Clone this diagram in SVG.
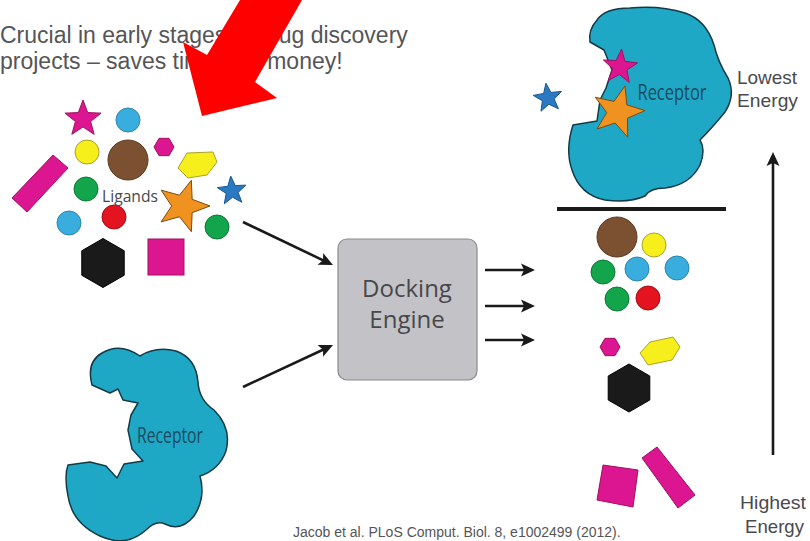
<svg xmlns="http://www.w3.org/2000/svg" xmlns:xlink="http://www.w3.org/1999/xlink" width="810" height="541" viewBox="0 0 810 541">
  <style>
    .head { font-family: "Liberation Sans", Arial, sans-serif; font-size: 23px; fill: #555558; }
    .cite { font-family: "Liberation Sans", Arial, sans-serif; font-size: 14px; fill: #555558; }
    .lbl { font-family: "Open Sans", "Noto Sans", sans-serif; fill: #48484c; }
    .elbl { font-family: "Liberation Sans", Arial, sans-serif; font-size: 19px; fill: #4a4a4e; }
    .rlbl { font-family: "Open Sans", "Noto Sans", sans-serif; font-size: 21px; fill: #1b4a5e; }
    .rec { fill: #1fa8c6; stroke: #143b45; stroke-width: 1.5; stroke-linejoin: round; }
    .ln { stroke: #1a1a1a; stroke-width: 2.6; fill: none; }
    .mag { fill: #dc1690; stroke: #a0105f; stroke-width: 1; }
    .cy { fill: #39aede; stroke: #2b86ad; stroke-width: 1; }
    .yel { fill: #f6ef1c; stroke: #a9a32a; stroke-width: 1; }
    .brn { fill: #7c5131; stroke: #5a3a20; stroke-width: 1; }
    .grn { fill: #13a54b; stroke: #0c7a36; stroke-width: 1; }
    .red { fill: #e3141f; stroke: #a80d14; stroke-width: 1; }
    .org { fill: #f0921f; stroke: #7a4a10; stroke-width: 1; }
    .blu { fill: #2b79c2; stroke: #1c5690; stroke-width: 1; }
    .blk { fill: #1a1a1a; stroke: #000; stroke-width: 1; }
  </style>
  <defs>
    <!-- unit shapes, radius 10 -->
    <polygon id="star" vector-effect="non-scaling-stroke" points="0,-10 2.47,-3.4 9.51,-3.09 3.99,1.3 5.88,8.09 0,4.2 -5.88,8.09 -3.99,1.3 -9.51,-3.09 -2.47,-3.4"/>
    <polygon id="hex" vector-effect="non-scaling-stroke" points="0,-10 8.66,-5 8.66,5 0,10 -8.66,5 -8.66,-5"/>
    <marker id="ah" viewBox="-12 -8 20 16" markerWidth="20" markerHeight="16" refX="0" refY="0" orient="auto" markerUnits="userSpaceOnUse" overflow="visible">
      <path d="M-10,-6.5 L4,0 L-10,6.5 L-7,0 Z" fill="#1a1a1a"/>
    </marker>
  </defs>

  <rect width="810" height="541" fill="#ffffff"/>

  <!-- heading -->
  <g id="heading">
    <text class="head" x="0" y="43">Crucial in early stages of drug discovery</text>
    <text class="head" x="0" y="69">projects – saves time and money!</text>
  </g>

  <!-- ligand library -->
  <g id="ligands">
    <use xlink:href="#star" class="mag" transform="translate(83,119) scale(1.9)"/>
    <circle class="cy" cx="128" cy="120" r="12"/>
    <circle class="yel" cx="87" cy="152" r="12"/>
    <circle class="brn" cx="128" cy="160" r="20"/>
    <use xlink:href="#hex" class="mag" transform="translate(164,147) rotate(30) scale(1)"/>
    <polygon class="yel" points="178,168 187,153 213,152 217,162 207,175 188,178"/>
    <use xlink:href="#star" class="blu" transform="translate(232,191) rotate(-5) scale(1.5)"/>
    <polygon class="mag" points="12,198 53,155 68,168 27,212"/>
    <circle class="grn" cx="86" cy="189" r="12"/>
    <use xlink:href="#star" class="org" transform="translate(183,206) rotate(18) scale(2.7)"/>
    <circle class="cy" cx="69" cy="223" r="12"/>
    <circle class="red" cx="114" cy="217" r="12"/>
    <circle class="grn" cx="217" cy="227" r="12"/>
    <use xlink:href="#hex" class="blk" transform="translate(103,263) scale(2.45)"/>
    <rect class="mag" x="148" y="239" width="36" height="36"/>
    <text class="lbl" x="102" y="202" font-size="16" textLength="56" lengthAdjust="spacingAndGlyphs">Ligands</text>
  </g>

  <!-- free receptor -->
  <g id="receptor-free">
    <path class="rec" d="M92,385 Q86,362 102,353 Q120,342 140,356 Q156,346 176,351 Q196,358 198,382 Q199,400 214,410 Q232,428 226,451 Q219,470 200,476 Q206,498 194,516 Q181,532 165,524 Q156,520 146,530 Q126,548 100,536 Q72,523 68,496 Q64,476 68,465 L90,462 L106,466 L117,478 L124,464 L143,461 L132,449 L128,430 L131,415 L138,403 L123,400 L118,389 L110,393 Z"/>
    <text class="rlbl" x="170" y="443" text-anchor="middle" textLength="66" lengthAdjust="spacingAndGlyphs">Receptor</text>
  </g>

  <!-- docking engine -->
  <g id="docking-engine">
    <rect x="338" y="239" width="139" height="141" rx="9" fill="#c3c3c7" stroke="#8a8a8e" stroke-width="1.2"/>
    <text class="lbl" x="407" y="297" font-size="24" text-anchor="middle" fill="#3e3e42">Docking</text>
    <text class="lbl" x="407" y="328" font-size="24" text-anchor="middle" fill="#3e3e42">Engine</text>
  </g>

  <!-- docked complex -->
  <g id="receptor-docked">
    <path class="rec" d="M573,125 Q565,150 572,170 Q580,195 605,200 Q630,203 645,196 Q650,188 665,188 Q690,185 700,165 Q706,150 700,140 Q712,128 725,112 Q736,95 728,78 Q718,62 714,45 Q706,20 685,13 Q660,5 630,8 Q605,8 597,20 Q588,30 590,42 L604,50 L612,70 L606,88 L600,100 L597,121 Z"/>
    <text class="rlbl" x="672" y="100" text-anchor="middle" textLength="69" lengthAdjust="spacingAndGlyphs">Receptor</text>
    <use xlink:href="#star" class="mag" transform="translate(620,67) rotate(5) scale(1.8)"/>
    <use xlink:href="#star" class="org" transform="translate(618,112) rotate(15) scale(2.7)"/>
    <use xlink:href="#star" class="blu" transform="translate(548,98) rotate(-8) scale(1.5)"/>
  </g>

  <!-- ranked ligands -->
  <g id="ranked-ligands">
    <circle class="brn" cx="617" cy="237" r="20"/>
    <circle class="yel" cx="654" cy="245" r="12"/>
    <circle class="grn" cx="603" cy="272" r="12"/>
    <circle class="cy" cx="637" cy="269" r="12"/>
    <circle class="cy" cx="677" cy="268" r="12"/>
    <circle class="grn" cx="617" cy="299" r="12"/>
    <circle class="red" cx="648" cy="298" r="12"/>
    <use xlink:href="#hex" class="mag" transform="translate(610,347) rotate(30) scale(1)"/>
    <polygon class="yel" points="640,353 650,342 673,337 680,347 672,360 648,365"/>
    <use xlink:href="#hex" class="blk" transform="translate(629,388) scale(2.4)"/>
    <polygon class="mag" points="603,465 638,470 633,507 597,500"/>
    <polygon class="mag" points="642,458 657,447 695,495 678,508"/>
  </g>

  <!-- energy scale -->
  <g id="energy-scale">
    <line x1="557" y1="209" x2="726" y2="209" stroke="#1a1a1a" stroke-width="4"/>
    <text class="elbl" x="737" y="84" textLength="60" lengthAdjust="spacingAndGlyphs">Lowest</text>
    <text class="elbl" x="737" y="107" textLength="61" lengthAdjust="spacingAndGlyphs">Energy</text>
    <text class="elbl" x="740" y="509" textLength="66" lengthAdjust="spacingAndGlyphs">Highest</text>
    <text class="elbl" x="745" y="533" textLength="59" lengthAdjust="spacingAndGlyphs">Energy</text>
  </g>

  <!-- connectors -->
  <g id="connectors">
    <line class="ln" x1="243" y1="222" x2="329.4" y2="263.3" marker-end="url(#ah)"/>
    <line class="ln" x1="243" y1="387" x2="329.4" y2="346.7" marker-end="url(#ah)"/>
    <line class="ln" x1="485" y1="270" x2="531" y2="270" marker-end="url(#ah)"/>
    <line class="ln" x1="485" y1="306" x2="531" y2="306" marker-end="url(#ah)"/>
    <line class="ln" x1="485" y1="340" x2="531" y2="340" marker-end="url(#ah)"/>
    <line class="ln" x1="773" y1="455" x2="773" y2="156" marker-end="url(#ah)"/>
  </g>

  <!-- pointer arrow -->
  <g id="pointer">
    <polygon points="240,0 302,0 255,82 277,98 202,116 183,42 207,55" fill="#fe0000"/>
  </g>

  <!-- reference -->
  <g id="citation">
    <text class="cite" x="293" y="537">Jacob et al. PLoS Comput. Biol. 8, e1002499 (2012).</text>
  </g>
</svg>
